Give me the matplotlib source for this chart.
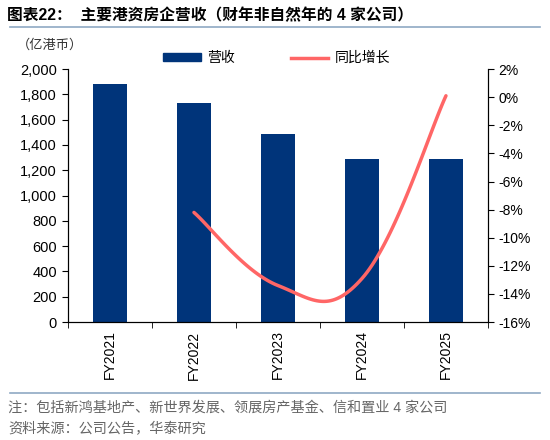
import numpy as np
import matplotlib.pyplot as plt
from matplotlib.patches import Rectangle
from matplotlib.lines import Line2D
from matplotlib.ticker import FuncFormatter, MultipleLocator

plt.rcParams['font.family'] = ['Liberation Sans', 'Noto Sans CJK SC']

years = ['FY2021', 'FY2022', 'FY2023', 'FY2024', 'FY2025']
revenue = [1880, 1730, 1490, 1290, 1290]          # 亿港币
yoy_years = ['FY2022', 'FY2023', 'FY2024', 'FY2025']
yoy = [-8.2, -13.4, -12.9, 0.1]                   # %

bar_color = '#00347A'
line_color = '#FF6666'
rule_color = '#8FA9C3'


def smooth(xs, ys, k=0.2, n=40):
    # smoothed line like excel: cubic bezier with neighbour tangents
    xs = np.asarray(xs, float)
    ys = np.asarray(ys, float)
    px = np.concatenate([[xs[0]], xs, [xs[-1]]])
    py = np.concatenate([[ys[0]], ys, [ys[-1]]])
    t = np.linspace(0, 1, n)
    outx, outy = [], []
    for i in range(1, len(px) - 2):
        c1x = px[i] + (px[i + 1] - px[i - 1]) * k
        c1y = py[i] + (py[i + 1] - py[i - 1]) * k
        c2x = px[i + 1] - (px[i + 2] - px[i]) * k
        c2y = py[i + 1] - (py[i + 2] - py[i]) * k
        bx = (1 - t)**3 * px[i] + 3 * (1 - t)**2 * t * c1x + 3 * (1 - t) * t**2 * c2x + t**3 * px[i + 1]
        by = (1 - t)**3 * py[i] + 3 * (1 - t)**2 * t * c1y + 3 * (1 - t) * t**2 * c2y + t**3 * py[i + 1]
        outx.extend(bx)
        outy.extend(by)
    return np.array(outx), np.array(outy)


fig = plt.figure(figsize=(5.5, 4.4), dpi=100)
ax = fig.add_axes([0.1236, 0.268, 0.7636, 0.575])

x = np.arange(len(years))
ax.bar(x, revenue, width=0.4, color=bar_color, zorder=2)
ax.set_xlim(-0.5, len(years) - 0.5)
ax.set_ylim(0, 2000)
ax.yaxis.set_major_locator(MultipleLocator(200))
ax.yaxis.set_major_formatter(FuncFormatter(lambda v, p: f'{v:,.0f}'))
ax.set_xticks(x)
ax.set_xticklabels(years, rotation=90)
ax.set_xticks(np.arange(len(years) + 1) - 0.5, minor=True)
ax.tick_params(axis='x', which='major', length=0, pad=6, labelsize=10)
ax.tick_params(axis='x', which='minor', length=4, direction='out')
ax.tick_params(axis='y', length=4, direction='out', labelsize=10.5, pad=4)
ax.spines['top'].set_visible(False)

ax2 = ax.twinx()
xi = [years.index(y) for y in yoy_years]
sx, sy = smooth(xi, yoy)
ax2.plot(sx, sy, color=line_color, lw=2.5, solid_capstyle='round', zorder=3)
ax2.set_ylim(-16, 2)
ax2.yaxis.set_major_locator(MultipleLocator(2))
ax2.yaxis.set_major_formatter(FuncFormatter(lambda v, p: f'{v:.0f}%'))
ax2.tick_params(axis='y', length=4, direction='out', labelsize=10)
ax2.spines['top'].set_visible(False)
ax2.set_xlim(-0.5, len(years) - 0.5)

handles = [Rectangle((0, 0), 1, 1, color=bar_color),
           Line2D([0], [0], color=line_color, lw=2.5)]
fig.legend(handles, ['营收', '同比增长'], loc='center', bbox_to_anchor=(0.503, 0.868),
           ncol=2, frameon=False, fontsize=10, handlelength=2.7, handleheight=0.45,
           columnspacing=4.0, handletextpad=0.45)

fig.text(0.03, 1 - 45 / 440, '（亿港币）', fontsize=9.5, va='center', ha='left', color='#333333')

fig.text(0.012, 1 - 16 / 440, '图表22：  主要港资房企营收（财年非自然年的 4 家公司）',
         fontsize=11.3, fontweight='bold', va='center', ha='left')
fig.add_artist(Line2D([0.018, 0.982], [1 - 27 / 440] * 2, color=rule_color, lw=1.2))
fig.add_artist(Line2D([0.018, 0.982], [1 - 393 / 440] * 2, color=rule_color, lw=1.2))

fig.text(0.015, 1 - 408 / 440, '注：包括新鸿基地产、新世界发展、领展房产基金、信和置业 4 家公司',
         fontsize=10.2, color='#666666', va='center', ha='left')
fig.text(0.015, 1 - 429 / 440, '资料来源：公司公告，华泰研究',
         fontsize=10.2, color='#666666', va='center', ha='left')

fig.savefig('out.png', dpi=100)
